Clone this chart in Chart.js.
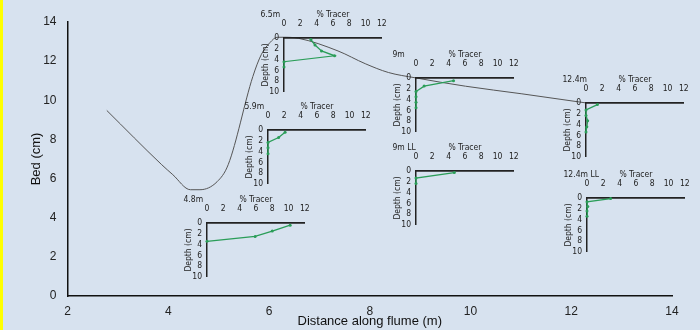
<!DOCTYPE html>
<html>
<head>
<meta charset="utf-8">
<script src="https://cdn.jsdelivr.net/npm/chart.js@4.4.1/dist/chart.umd.min.js"></script>
<style>
  html, body { margin: 0; padding: 0; }
  body {
    width: 700px; height: 330px; overflow: hidden; position: relative;
    background: #d7e2ef;
  }
  #stripe { position: absolute; left: 0; top: 0; width: 3px; height: 330px; background: #ffff00; }
  canvas { position: absolute; }
</style>
</head>
<body>
<div id="stripe"></div>
<canvas id="main" width="700" height="330" style="left:0;top:0"></canvas>
<script>
// bed profile along the flume
const bedX = [2.78, 3.87, 4.09, 4.44, 4.63, 4.97, 5.19, 5.68, 5.85, 6.02, 6.16, 6.28, 6.58, 7.37, 7.91, 8.37, 8.9, 9.9, 11.02, 12.28];
const bedY = [9.48, 6.71, 6.2, 5.43, 5.43, 5.84, 6.71, 11.22, 12.35, 12.95, 13.22, 13.22, 13.17, 12.52, 11.87, 11.42, 11.15, 10.72, 10.33, 9.87];
const mainTicks = [2, 4, 6, 8, 10, 12, 14];

// tracer profiles (% tracer vs depth in cm)
const names = ['6.5m', '5.9m', '4.8m', '9m', '12.4m', '9m LL', '12.4m LL'];
const tracer65 = [3.3, 3.8, 4.6, 6.2, 0, 0];
const depth65 = [0.3, 1.3, 2.4, 3.3, 4.4, 5.4];
const tracer59 = [2.1, 1.3, 0, 0, 0];
const depth59 = [0.4, 1.4, 2.3, 3.3, 4.4];
const tracer48 = [10.2, 8.0, 5.9, 0];
const depth48 = [0.4, 1.5, 2.5, 3.4];
const tracer9 = [4.6, 1.0, 0, 0, 0, 0];
const depth9 = [0.5, 1.5, 2.5, 3.5, 4.5, 5.5];
const tracer124 = [1.4, 0, 0, 0.2, 0.1, 0];
const depth124 = [0.3, 1.3, 2.3, 3.3, 4.4, 5.4];
const tracer9LL = [4.7, 0, 0];
const depth9LL = [0.3, 1.3, 2.3];
const tracer124LL = [2.9, 0, 0.1, 0, 0];
const depth124LL = [0.1, 0.7, 1.6, 2.4, 3.4];
const tracerSets = [tracer65, tracer59, tracer48, tracer9, tracer124, tracer9LL, tracer124LL];
const depthSets = [depth65, depth59, depth48, depth9, depth124, depth9LL, depth124LL];

// where each inset plot box sits on the page (top-left of plot area)
const insetPos = [[284, 38], [268, 130], [207, 223], [416, 78], [586, 103], [416, 171], [587, 198]];
const PW = 105, PH = 57, YW = 24, XH = 29, PADR = 7, PADB = 7;

Chart.defaults.font.family = "'Liberation Sans', Arial, sans-serif";
Chart.defaults.color = '#222';
const narrow = "'Liberation Sans Narrow', 'Arial Narrow', 'DejaVu Sans Condensed', sans-serif";

new Chart(document.getElementById('main'), {
  type: 'scatter',
  data: {
    datasets: [{
      data: bedX.map((x, i) => ({ x: x, y: bedY[i] })),
      showLine: true,
      borderColor: '#555',
      borderWidth: 1,
      pointRadius: 0,
      cubicInterpolationMode: 'monotone'
    }]
  },
  options: {
    responsive: false,
    animation: false,
    layout: { padding: { top: 22, right: 28, bottom: 0, left: 0 } },
    plugins: { legend: { display: false }, tooltip: { enabled: false } },
    scales: {
      x: {
        type: 'linear', min: 2, max: 14,
        afterBuildTicks: s => { s.ticks = mainTicks.map(v => ({ value: v })); },
        ticks: { padding: 8.5, font: { size: 12 }, color: '#222' },
        grid: { display: false, drawTicks: false },
        border: { color: '#111', width: 1.5 },
        title: { display: true, text: 'Distance along flume (m)', font: { size: 13 }, color: '#111', padding: { top: 0, bottom: 0.5 } },
        afterFit: s => { s.height = 34; }
      },
      y: {
        min: 0, max: 14,
        ticks: { stepSize: 2, padding: 11, font: { size: 12 }, color: '#222' },
        grid: { display: false, drawTicks: false },
        border: { color: '#111', width: 1.5 },
        title: { display: true, text: 'Bed (cm)', font: { size: 13 }, color: '#111', padding: { top: 29, bottom: 0 } },
        afterFit: s => { s.width = 67.5; }
      }
    }
  }
});

// draws the station name left of the "% Tracer" title
const insetLabel = {
  id: 'insetLabel',
  afterDraw(chart, args, opts) {
    const ctx = chart.ctx;
    ctx.save();
    ctx.font = '8.5px ' + narrow;
    ctx.fillStyle = '#222';
    ctx.textAlign = 'left';
    ctx.textBaseline = 'middle';
    ctx.fillText(opts.text, 0.5, chart.chartArea.top - 23.4);
    ctx.restore();
  }
};

names.forEach((name, k) => {
  const cv = document.createElement('canvas');
  cv.width = YW + PW + PADR;
  cv.height = XH + PH + PADB;
  cv.style.left = (insetPos[k][0] - YW) + 'px';
  cv.style.top = (insetPos[k][1] - XH) + 'px';
  document.body.appendChild(cv);

  new Chart(cv, {
    type: 'scatter',
    plugins: [insetLabel],
    data: {
      datasets: [{
        data: tracerSets[k].map((t, i) => ({ x: t, y: depthSets[k][i] })),
        showLine: true,
        borderColor: '#2a9d58',
        backgroundColor: '#2a9d58',
        borderWidth: 1.3,
        pointRadius: 1.5,
        pointBorderWidth: 0,
        clip: false
      }]
    },
    options: {
      responsive: false,
      animation: false,
      layout: { padding: { top: 0, right: PADR, bottom: PADB, left: 0 } },
      plugins: { legend: { display: false }, tooltip: { enabled: false }, insetLabel: { text: name } },
      scales: {
        x: {
          type: 'linear', position: 'top', min: 0, max: 12,
          ticks: { stepSize: 2, autoSkip: false, maxRotation: 0, padding: 9.3, font: { size: 8.5, family: narrow }, color: '#222' },
          grid: { display: false, drawTicks: false },
          border: { color: '#222', width: 1.8 },
          title: { display: true, text: '% Tracer', font: { size: 8.5, family: narrow }, color: '#222', padding: { top: 0.5, bottom: 0 } },
          afterFit: s => { s.height = XH; }
        },
        y: {
          reverse: true, min: 0, max: 10,
          ticks: { stepSize: 2, autoSkip: false, padding: 5, font: { size: 8.5, family: narrow }, color: '#222' },
          grid: { display: false, drawTicks: false },
          border: { color: '#222', width: 1.5 },
          title: { display: true, text: 'Depth (cm)', font: { size: 8.5, family: narrow }, color: '#222', padding: { top: 1, bottom: 0 } },
          afterFit: s => { s.width = YW; }
        }
      }
    }
  });
});
</script>
</body>
</html>
